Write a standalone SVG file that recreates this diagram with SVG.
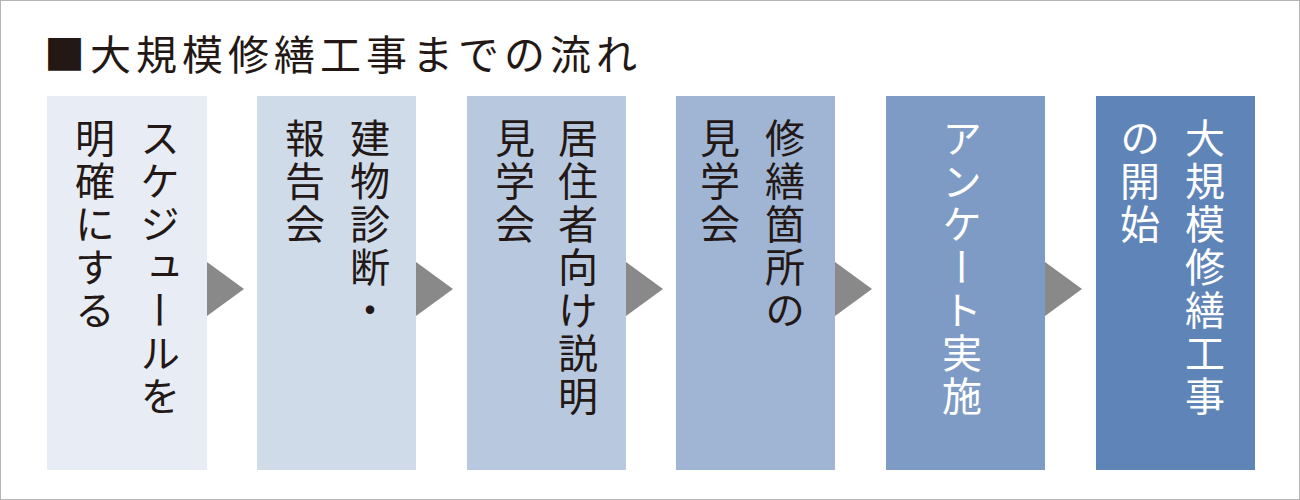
<svg xmlns="http://www.w3.org/2000/svg" width="1300" height="500" viewBox="0 0 1300 500">
<style>
.t{font-family:"Noto Sans CJK JP","Noto Sans",sans-serif;font-size:40px;writing-mode:vertical-rl;letter-spacing:3px;fill:#231815}
.w{fill:#ffffff}
.arr{fill:#898989}
</style>
<rect x="0.5" y="0.5" width="1299" height="499" fill="#fff" stroke="#b5b5b5"/>
<text x="44" y="70" font-family="Noto Sans CJK JP,sans-serif" font-size="41" fill="#231815" letter-spacing="5">■大規模修繕工事までの流れ</text>
<g id="n1"><rect x="47" y="96" width="160" height="374" fill="#e8edf5"/><text class="t" x="160" y="118">スケジュールを</text><text class="t" x="95" y="118">明確にする</text></g>
<g id="n2"><rect x="257" y="96" width="159" height="374" fill="#cfdbe9"/><text class="t" x="370" y="118">建物診断・</text><text class="t" x="305" y="118">報告会</text></g>
<g id="n3"><rect x="467" y="96" width="159" height="374" fill="#b8c9df"/><text class="t" x="578" y="118">居住者向け説明</text><text class="t" x="515" y="118">見学会</text></g>
<g id="n4"><rect x="676" y="96" width="159" height="374" fill="#9fb5d3"/><text class="t" x="785" y="118">修繕箇所の</text><text class="t" x="720" y="118">見学会</text></g>
<g id="n5"><rect x="886" y="96" width="159" height="374" fill="#7d9bc4"/><text class="t w" x="962" y="118">アンケート実施</text></g>
<g id="n6"><rect x="1096" y="96" width="159" height="374" fill="#5f84b8"/><text class="t w" x="1205" y="118">大規模修繕工事</text><text class="t w" x="1140" y="118">の開始</text></g>
<g id="connectors">
<polygon class="arr" points="207,262 244,289 207,316"/>
<polygon class="arr" points="416,262 453,289 416,316"/>
<polygon class="arr" points="626,262 663,289 626,316"/>
<polygon class="arr" points="835,262 872,289 835,316"/>
<polygon class="arr" points="1045,262 1082,289 1045,316"/>
</g>
</svg>
